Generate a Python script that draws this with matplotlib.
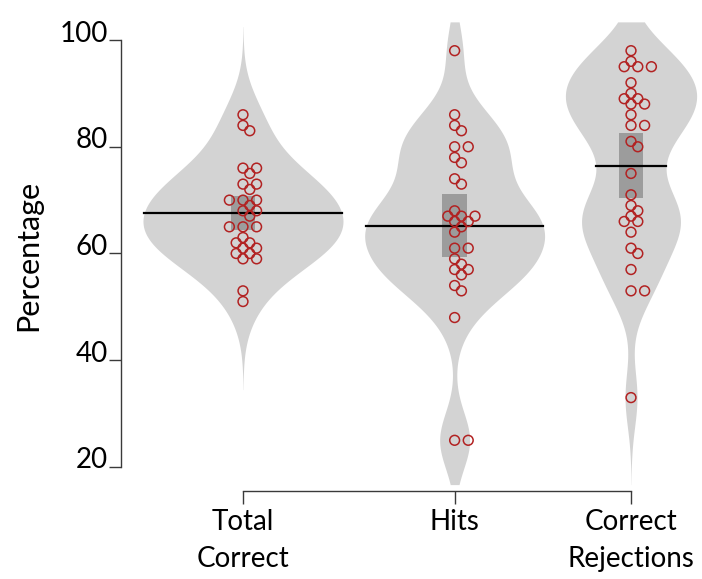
import numpy as np
import matplotlib
matplotlib.use("Agg")
import matplotlib.pyplot as plt
import matplotlib.transforms as mtransforms

plt.rcParams["font.family"] = ["Lato", "DejaVu Sans"]

# Значення (відсотки, 30 учасників на групу)
categories = ["Total\nCorrect", "Hits", "Correct\nRejections"]
positions = [1.0, 2.2, 3.2]

total_correct = [86, 84, 83, 76, 76, 75, 73, 73, 72, 70, 70, 70, 69, 68, 68,
                 67, 65, 65, 65, 63, 62, 62, 61, 61, 60, 60, 59, 59, 53, 51]
hits = [98, 86, 84, 83, 80, 80, 78, 77, 74, 73, 68, 67, 67, 67, 66,
        66, 65, 64, 61, 61, 59, 58, 57, 57, 56, 54, 53, 48, 25, 25]
correct_rejections = [98, 96, 95, 95, 95, 92, 90, 89, 89, 88, 88, 86, 84, 84, 81,
                      80, 75, 71, 69, 68, 67, 66, 66, 64, 61, 60, 57, 53, 53, 33]

yticks = [20, 40, 60, 80, 100]

groups = [total_correct, hits, correct_rejections]
bandwidths = [5.5, 5.3, 5.5]
bean_widths = [0.567, 0.51, 0.372]   # півширина кожної «квасолини», одиниці осі x

BEAN_COLOR = "#d3d3d3"
BOX_COLOR = "#9c9c9c"
POINT_COLOR = "#b22222"
AXIS_COLOR = "#3a3a3a"
BEAN_LO, BEAN_HI = 16.7, 103.4


def kde(values, grid, bw):
    v = np.asarray(values, dtype=float)[:, None]
    z = (grid[None, :] - v) / bw
    return np.exp(-0.5 * z ** 2).sum(axis=0) / (len(v) * bw * np.sqrt(2 * np.pi))


fig = plt.figure(figsize=(7.02, 5.79), dpi=100)
ax = fig.add_axes([121 / 702, 88 / 579, 581 / 702, 471 / 579])
ax.set_xlim(0.3084, 3.6025)
ax.set_ylim(15.5, 103.75)

for pos, vals, bw, wmax in zip(positions, groups, bandwidths, bean_widths):
    lo = max(BEAN_LO, min(vals) - 3 * bw)
    hi = min(BEAN_HI, max(vals) + 3 * bw)
    g = np.linspace(lo, hi, 400)
    d = kde(vals, g, bw)
    half = d / d.max() * wmax
    ax.fill_betweenx(g, pos - half, pos + half, color=BEAN_COLOR, lw=0, zorder=1)

    vals = np.asarray(vals, dtype=float)
    mean = vals.mean()
    ci = 2.045 * vals.std(ddof=1) / np.sqrt(len(vals))
    ax.fill_between([pos - 0.07, pos + 0.07], mean - ci, mean + ci,
                    color=BOX_COLOR, lw=0, zorder=2)
    w = np.interp(mean, g, half)
    ax.plot([pos - w, pos + w], [mean, mean], color="black", lw=1.6, zorder=3)

# простий beeswarm у піксельних координатах
STEP = 6.8
MIN_D = 7.0
for pos, vals in zip(positions, groups):
    pix = ax.transData.transform(np.column_stack([np.full(len(vals), pos), vals]))
    placed = []
    for px, py in sorted(pix.tolist(), key=lambda p: -p[1]):
        for k in [0, 1, -1, 2, -2, 3, -3, 4, -4]:
            cx = px + k * STEP
            if all((cx - qx) ** 2 + (py - qy) ** 2 >= MIN_D ** 2 for qx, qy in placed):
                break
        placed.append((cx, py))
    pts = ax.transData.inverted().transform(np.array(placed))
    ax.scatter(pts[:, 0], pts[:, 1], s=50, facecolors="none",
               edgecolors=POINT_COLOR, linewidths=1.1, zorder=4)

for side in ["top", "right"]:
    ax.spines[side].set_visible(False)
ax.spines["left"].set_bounds(20, 100)
ax.spines["bottom"].set_bounds(positions[0], positions[-1])
for side in ["left", "bottom"]:
    ax.spines[side].set_color(AXIS_COLOR)
    ax.spines[side].set_linewidth(1.0)

ax.set_yticks(yticks)
ax.set_xticks(positions)
ax.set_xticklabels(categories)
ax.tick_params(axis="both", direction="out", length=9, width=1.0,
               color=AXIS_COLOR, labelsize=20, labelcolor="black")
ax.tick_params(axis="y", pad=0.5)
ax.tick_params(axis="x", pad=4)
for lab in ax.get_xticklabels():
    lab.set_linespacing(1.5)
shift = mtransforms.ScaledTranslation(0, 0.09, fig.dpi_scale_trans)
for lab in ax.get_yticklabels():
    lab.set_transform(lab.get_transform() + shift)

ax.set_ylabel("Percentage", fontsize=22)
ax.yaxis.set_label_coords(-0.135, 0.5)

fig.savefig("out.png", dpi=100)
